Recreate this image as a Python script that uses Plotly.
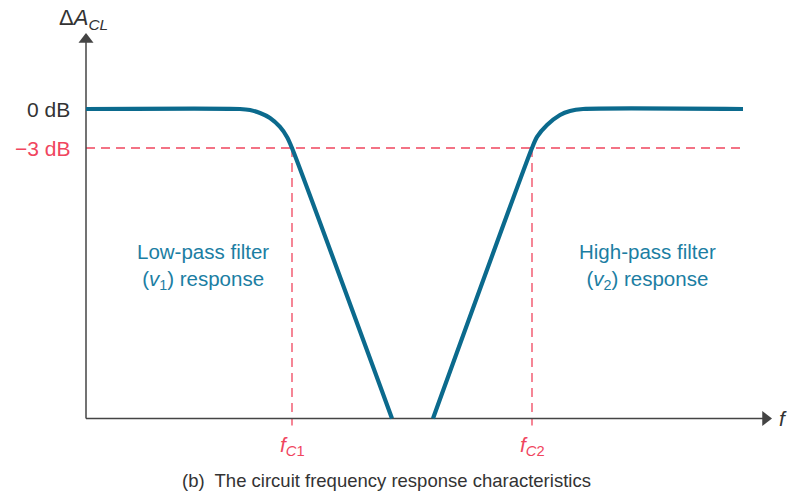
import plotly.graph_objects as go

# ---- data (schematic units: relative frequency, gain in dB) ----
lp_freq = [0, 15.4, 16.4, 17.4, 18.4, 19.4, 20.1, 20.6, 30.6]
lp_gain = [0, 0, -0.08, -0.31, -0.69, -1.38, -2.15, -3, -23.8]
hp_freq = [34.7, 44.6, 45.1, 46.1, 47.4, 48.4, 49.7, 65.7]
hp_gain = [-23.8, -3, -2.15, -1.23, -0.46, -0.15, 0, 0]
fc1 = 20.6
fc2 = 44.6
ref_levels = [0, -3]
ref_labels = ["0 dB", "\u22123 dB"]
gain_floor = -23.8
x_end = 68.6
y_top = 5.85
dash_end = 65.7

TEAL = "#0b6a8d"
TEAL_TXT = "#1b7ea3"
RED = "#f0455e"
AX = "#444444"
FONT = "Liberation Sans, Arial, sans-serif"

fig = go.Figure()

# -3 dB dashed line and fc verticals
fig.add_trace(go.Scatter(x=[0, dash_end], y=[-3, -3], mode="lines",
                         line=dict(color=RED, width=1.3, dash="9px,6px"),
                         hoverinfo="skip", showlegend=False))
for fc in (fc1, fc2):
    fig.add_trace(go.Scatter(x=[fc, fc], y=[-3, gain_floor - 0.55], mode="lines",
                             line=dict(color=RED, width=1.3, dash="9px,6px"),
                             hoverinfo="skip", showlegend=False))

# axes with arrowheads
fig.add_trace(go.Scatter(x=[0, x_end - 0.7], y=[gain_floor, gain_floor], mode="lines",
                         line=dict(color=AX, width=1.5), hoverinfo="skip", showlegend=False))
fig.add_trace(go.Scatter(x=[0, 0], y=[gain_floor, y_top - 0.6], mode="lines",
                         line=dict(color=AX, width=1.5), hoverinfo="skip", showlegend=False))
fig.add_trace(go.Scatter(x=[x_end - 0.65], y=[gain_floor], mode="markers",
                         marker=dict(symbol="triangle-right", size=13, color=AX,
                                     line=dict(width=0)),
                         hoverinfo="skip", showlegend=False))
fig.add_trace(go.Scatter(x=[0], y=[y_top - 0.5], mode="markers",
                         marker=dict(symbol="triangle-up", size=13, color=AX,
                                     line=dict(width=0)),
                         hoverinfo="skip", showlegend=False))

# response curves
for xs, ys in ((lp_freq, lp_gain), (hp_freq, hp_gain)):
    fig.add_trace(go.Scatter(x=xs, y=ys, mode="lines",
                             line=dict(color=TEAL, width=4.2, shape="spline", smoothing=0.7),
                             hoverinfo="skip", showlegend=False))

ann = []
# level labels
for lvl, lab, col in zip(ref_levels, ref_labels, ["#333333", RED]):
    ann.append(dict(x=-1.4, y=lvl, xref="x", yref="y", text=lab, showarrow=False,
                    xanchor="right", yanchor="middle",
                    font=dict(family=FONT, size=21, color=col)))

ann.append(dict(x=-0.3, y=6.9, xref="x", yref="y",
                text="\u0394<i>A</i><sub><i>CL</i></sub>", showarrow=False,
                xanchor="center", yanchor="middle",
                font=dict(family=FONT, size=22, color="#333333")))
ann.append(dict(x=69.7, y=gain_floor, xref="x", yref="y", text="<i>f</i>",
                showarrow=False, xanchor="center", yanchor="middle",
                font=dict(family=FONT, size=21, color="#333333")))

for fc, n in ((fc1, "1"), (fc2, "2")):
    ann.append(dict(x=fc, y=-25.9, xref="x", yref="y",
                    text="<i>f</i><sub><i>C</i>" + n + "</sub>", showarrow=False,
                    xanchor="center", yanchor="middle",
                    font=dict(family=FONT, size=21, color=RED)))

ann.append(dict(x=11.7, y=-12.1, xref="x", yref="y",
                text="Low-pass filter<br>(<i>v</i><sub>1</sub>) response",
                showarrow=False, xanchor="center", yanchor="middle", align="center",
                font=dict(family=FONT, size=20.5, color=TEAL_TXT)))
ann.append(dict(x=56.1, y=-12.1, xref="x", yref="y",
                text="High-pass filter<br>(<i>v</i><sub>2</sub>) response",
                showarrow=False, xanchor="center", yanchor="middle", align="center",
                font=dict(family=FONT, size=20.5, color=TEAL_TXT)))

ann.append(dict(x=30.0, y=-28.6, xref="x", yref="y",
                text="(b)\u00a0 The circuit frequency response characteristics",
                showarrow=False, xanchor="center", yanchor="middle",
                font=dict(family=FONT, size=18.5, color="#333333")))

fig.update_layout(
    width=787, height=498,
    margin=dict(l=0, r=0, t=0, b=0),
    paper_bgcolor="white", plot_bgcolor="white",
    xaxis=dict(range=[-8.6, 70.1], visible=False, fixedrange=True),
    yaxis=dict(range=[-29.92, 8.385], visible=False, fixedrange=True),
    annotations=ann,
    showlegend=False,
    hovermode=False,
)

fig.write_html("out.html", config={"displayModeBar": False},
               post_script="document.body.style.margin='0';document.body.style.overflow='hidden';")
